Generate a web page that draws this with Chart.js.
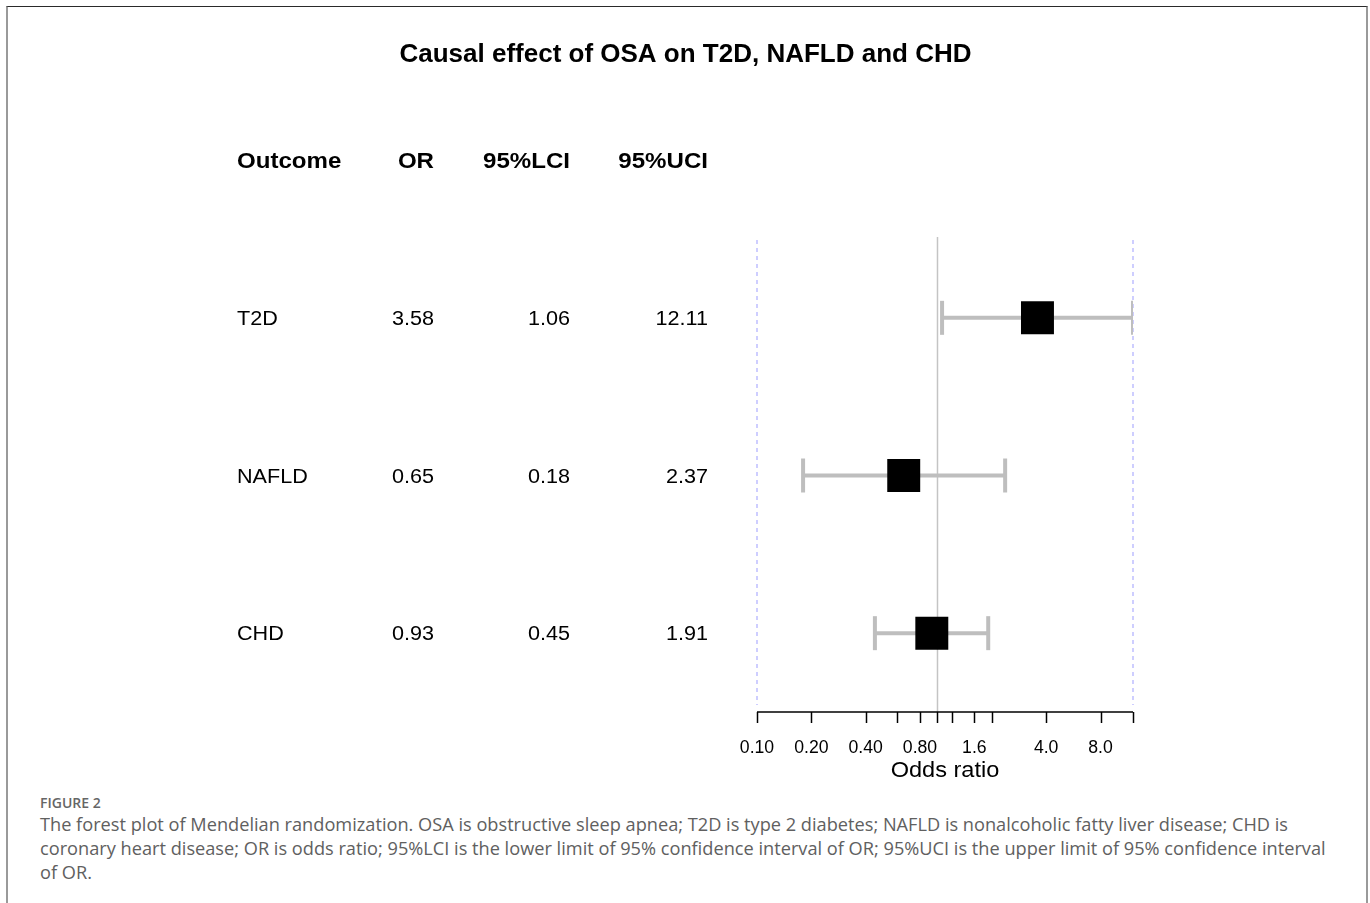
<!DOCTYPE html>
<html>
<head>
<meta charset="utf-8">
<script src="https://cdn.jsdelivr.net/npm/chart.js@4.4.1/dist/chart.umd.min.js"></script>
<style>
  html, body { margin: 0; padding: 0; background: #fff; }
  body { width: 1370px; height: 903px; position: relative; overflow: hidden; }
  #frame { position: absolute; left: 6px; top: 6px; width: 1358px; height: 920px;
           border-left: 2px solid #9a9a9a; border-right: 2px solid #9a9a9a; border-top: 1px solid #2a2a2a; }
  #chart { position: absolute; left: 0; top: 0; }
  #caption { position: absolute; left: 40px; top: 793px; font-family: "Open Sans", "Noto Sans", sans-serif; color: #606060; }
  #caption .fig { font-size: 14px; font-weight: 600; color: #666; line-height: 19px; }
  #caption .line { font-size: 18.2px; line-height: 24px; white-space: nowrap; }
</style>
</head>
<body>
<div id="frame"></div>
<canvas id="chart" width="1370" height="790"></canvas>
<div id="caption">
  <div class="fig">FIGURE 2</div>
  <div class="line">The forest plot of Mendelian randomization. OSA is obstructive sleep apnea; T2D is type 2 diabetes; NAFLD is nonalcoholic fatty liver disease; CHD is</div>
  <div class="line">coronary heart disease; OR is odds ratio; 95%LCI is the lower limit of 95% confidence interval of OR; 95%UCI is the upper limit of 95% confidence interval</div>
  <div class="line">of OR.</div>
</div>
<script>
// ---- data ----
const chartTitle = 'Causal effect of OSA on T2D, NAFLD and CHD';
const headers = ['Outcome', 'OR', '95%LCI', '95%UCI'];
const outcomes = ['T2D', 'NAFLD', 'CHD'];
const rowPositions = [3, 2, 1];
const orValues = [3.58, 0.65, 0.93];
const lciValues = [1.06, 0.18, 0.45];
const uciValues = [12.11, 2.37, 1.91];
const orLabels = ['3.58', '0.65', '0.93'];
const lciLabels = ['1.06', '0.18', '0.45'];
const uciLabels = ['12.11', '2.37', '1.91'];
const tickValues = [0.1, 0.2, 0.4, 0.6, 0.8, 1.0, 1.2, 1.6, 2.0, 4.0, 8.0, 12.11];
const tickLabels = ['0.10', '0.20', '0.40', '', '0.80', '', '', '1.6', '', '4.0', '8.0', ''];
const axisTitle = 'Odds ratio';
const xMin = 0.1, xMax = 12.11, refValue = 1;

const FONT = 'Arial, "Liberation Sans", Helvetica, sans-serif';

function drawText(ctx, text, x, y, font, align, sx) {
  ctx.save();
  ctx.font = font;
  ctx.textAlign = align;
  ctx.textBaseline = 'alphabetic';
  ctx.fillStyle = '#000';
  ctx.translate(x, y);
  ctx.scale(sx || 1, 1);
  ctx.fillText(text, 0, 0);
  ctx.restore();
}

const forestPlugin = {
  id: 'forest',
  beforeDatasetsDraw(chart) {
    const ctx = chart.ctx, xs = chart.scales.x, area = chart.chartArea;
    ctx.save();
    const xr = xs.getPixelForValue(refValue);
    ctx.strokeStyle = '#c4c4c4';
    ctx.lineWidth = 1.5;
    ctx.beginPath();
    ctx.moveTo(xr, area.top - 2);
    ctx.lineTo(xr, area.bottom);
    ctx.stroke();
    ctx.strokeStyle = '#b4b4ff';
    ctx.lineWidth = 1.3;
    ctx.setLineDash([4, 4]);
    [xMin, xMax].forEach(v => {
      const px = xs.getPixelForValue(v);
      ctx.beginPath();
      ctx.moveTo(px, area.top + 1);
      ctx.lineTo(px, area.bottom - 7);
      ctx.stroke();
    });
    ctx.restore();
  },
  afterDraw(chart) {
    const ctx = chart.ctx, xs = chart.scales.x, ys = chart.scales.y, area = chart.chartArea;
    drawText(ctx, chartTitle, 685.5, 62, 'bold 26px ' + FONT, 'center', 1);
    const colX = [237, 434, 570, 708];
    const colAlign = ['left', 'right', 'right', 'right'];
    headers.forEach((h, i) => drawText(ctx, h, colX[i], 168, 'bold 21.5px ' + FONT, colAlign[i], 1.12));
    outcomes.forEach((o, r) => {
      const y = ys.getPixelForValue(rowPositions[r]) + 7;
      const cells = [o, orLabels[r], lciLabels[r], uciLabels[r]];
      cells.forEach((c, i) => drawText(ctx, c, colX[i], y, '20px ' + FONT, colAlign[i], 1.08));
    });
    ctx.save();
    ctx.strokeStyle = '#000';
    ctx.lineWidth = 1.5;
    const yAxis = area.bottom;
    ctx.beginPath();
    ctx.moveTo(xs.getPixelForValue(xMin), yAxis);
    ctx.lineTo(xs.getPixelForValue(xMax), yAxis);
    ctx.stroke();
    tickValues.forEach((v, i) => {
      const px = Math.round(xs.getPixelForValue(v)) + 0.5;
      ctx.beginPath();
      ctx.moveTo(px, yAxis);
      ctx.lineTo(px, yAxis + 11);
      ctx.stroke();
      if (tickLabels[i]) drawText(ctx, tickLabels[i], xs.getPixelForValue(v), yAxis + 41, '18px ' + FONT, 'center', 0.98);
    });
    ctx.restore();
    drawText(ctx, axisTitle, (area.left + area.right) / 2, yAxis + 65, '22px ' + FONT, 'center', 1.07);
  }
};

const whiskerSets = outcomes.map((o, r) => ({
  label: o + ' CI',
  data: [{ x: lciValues[r], y: rowPositions[r] }, { x: uciValues[r], y: rowPositions[r] }],
  showLine: true,
  borderColor: '#bebebe',
  borderWidth: 4,
  pointStyle: 'line',
  rotation: 90,
  pointRadius: 17,
  pointBorderWidth: 4,
  pointBorderColor: '#bebebe',
  pointBackgroundColor: '#bebebe'
}));

new Chart(document.getElementById('chart'), {
  type: 'scatter',
  data: {
    datasets: [{
      label: 'OR',
      data: outcomes.map((o, r) => ({ x: orValues[r], y: rowPositions[r] })),
      pointStyle: 'rect',
      pointRadius: 23.3,
      pointBorderWidth: 0,
      backgroundColor: '#000',
      borderColor: '#000'
    }].concat(whiskerSets)
  },
  options: {
    responsive: false,
    animation: false,
    events: [],
    layout: { padding: { left: 757, right: 237, top: 239, bottom: 78 } },
    scales: {
      x: { type: 'logarithmic', min: xMin, max: xMax, display: false },
      y: { type: 'linear', min: 0.5, max: 3.5, display: false }
    },
    plugins: { legend: { display: false }, tooltip: { enabled: false }, title: { display: false } }
  },
  plugins: [forestPlugin]
});
</script>
</body>
</html>
